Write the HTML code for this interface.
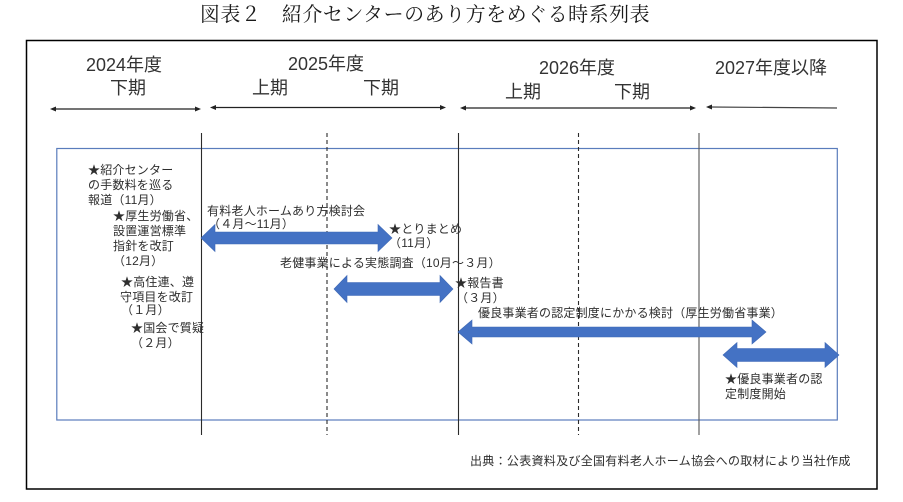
<!DOCTYPE html>
<html>
<head>
<meta charset="utf-8">
<style>
  html, body { margin:0; padding:0; background:#ffffff; }
  body { width:903px; height:502px; overflow:hidden; }
  svg { display:block; }
  .t { font-family:"Liberation Sans","Noto Sans CJK JP",sans-serif; fill:#2e2e2e; }
  .s { font-size:12px; letter-spacing:0.2px; }
  .h { font-size:18px; fill:#333; }
  .title { font-family:"Liberation Serif","Noto Serif CJK SC",serif; font-size:20px; fill:#1a1a1a; letter-spacing:0.5px; }
</style>
</head>
<body>
<svg width="903" height="502" viewBox="0 0 903 502" xmlns="http://www.w3.org/2000/svg">
  <rect x="0" y="0" width="903" height="502" fill="#fff"/>

  <!-- Title -->
  <text class="title" x="425" y="15" text-anchor="middle" dominant-baseline="central">図表２　紹介センターのあり方をめぐる時系列表</text>

  <!-- Outer frame -->
  <rect x="26.5" y="40.5" width="850.5" height="448.5" fill="none" stroke="#000" stroke-width="1.5"/>

  <!-- Header labels -->
  <g class="t h" dominant-baseline="central" text-anchor="middle">
    <text x="124" y="65">2024年度</text>
    <text x="128" y="88">下期</text>
    <text x="326" y="64">2025年度</text>
    <text x="270" y="88">上期</text>
    <text x="381" y="88">下期</text>
    <text x="577" y="68">2026年度</text>
    <text x="523" y="92">上期</text>
    <text x="632" y="92">下期</text>
    <text x="771" y="68">2027年度以降</text>
  </g>

  <!-- Small timeline arrows -->
  <g stroke="#222" stroke-width="1.2" fill="#222">
    <line x1="54" y1="109" x2="197" y2="109"/>
    <polygon points="50,109 56,106.5 56,111.5" stroke="none"/>
    <polygon points="201,109 195,106.5 195,111.5" stroke="none"/>

    <line x1="214" y1="107.5" x2="442" y2="107.5"/>
    <polygon points="210,107.5 216,105 216,110" stroke="none"/>
    <polygon points="446,107.5 440,105 440,110" stroke="none"/>

    <line x1="464" y1="108" x2="692" y2="108"/>
    <polygon points="460,108 466,105.5 466,110.5" stroke="none"/>
    <polygon points="696,108 690,105.5 690,110.5" stroke="none"/>

    <line x1="710" y1="107" x2="837" y2="108" stroke="#444"/>
    <polygon points="706,107 712,104.5 712,109.5" stroke="none"/>
  </g>

  <!-- Blue box -->
  <rect x="56.8" y="148.5" width="780.5" height="271.5" fill="none" stroke="#5a7cbc" stroke-width="1.2"/>

  <!-- Vertical lines -->
  <g stroke="#2b2b2b" stroke-width="1.1">
    <line x1="201.5" y1="133" x2="201.5" y2="435"/>
    <line x1="458.5" y1="133" x2="458.5" y2="435"/>
    <line x1="699" y1="133" x2="699" y2="435" stroke="#555"/>
  </g>
  <g stroke="#2b2b2b" stroke-width="1.1" stroke-dasharray="4,3">
    <line x1="327" y1="133" x2="327" y2="435"/>
    <line x1="578.5" y1="133" x2="578.5" y2="435"/>
  </g>

  <!-- Big blue arrows -->
  <g fill="#4472c4" stroke="#3e68b5" stroke-width="0.6">
    <polygon points="201,238 215,224.5 215,232 378,232 378,224.5 392,238 378,251.5 378,244 215,244 215,251.5"/>
    <polygon points="334,289 347,275.5 347,282.5 440,282.5 440,275.5 453,289 440,302.5 440,295.5 347,295.5 347,302.5"/>
    <polygon points="458,332 472,320 472,327 752,327 752,320 766,332 752,344 752,337 472,337 472,344"/>
    <polygon points="723,355 737,342.5 737,348.5 825,348.5 825,342.5 839,355 825,367.5 825,361.5 737,361.5 737,367.5"/>
  </g>

  <!-- Labels -->
  <g class="t s" dominant-baseline="central">
    <text x="88" y="170">★紹介センター</text>
    <text x="88" y="185">の手数料を巡る</text>
    <text x="88" y="200">報道（11月）</text>

    <text x="113" y="216">★厚生労働省、</text>
    <text x="113" y="231">設置運営標準</text>
    <text x="113" y="246">指針を改訂</text>
    <text x="113" y="261">（12月）</text>

    <text x="121" y="282">★高住連、遵</text>
    <text x="120" y="297">守項目を改訂</text>
    <text x="121" y="310">（１月）</text>

    <text x="131" y="328">★国会で質疑</text>
    <text x="131" y="343">（２月）</text>

    <text x="207" y="211">有料老人ホームあり方検討会</text>
    <text x="208" y="224">（４月～11月）</text>

    <text x="389" y="229">★とりまとめ</text>
    <text x="389" y="243">（11月）</text>

    <text x="280" y="263">老健事業による実態調査（10月～３月）</text>

    <text x="455" y="283">★報告書</text>
    <text x="456" y="298">（３月）</text>

    <text x="478" y="313">優良事業者の認定制度にかかる検討（厚生労働省事業）</text>

    <text x="725" y="379">★優良事業者の認</text>
    <text x="725" y="394">定制度開始</text>

    <text x="470" y="461" style="letter-spacing:0.3px">出典：公表資料及び全国有料老人ホーム協会への取材により当社作成</text>
  </g>
</svg>
</body>
</html>
